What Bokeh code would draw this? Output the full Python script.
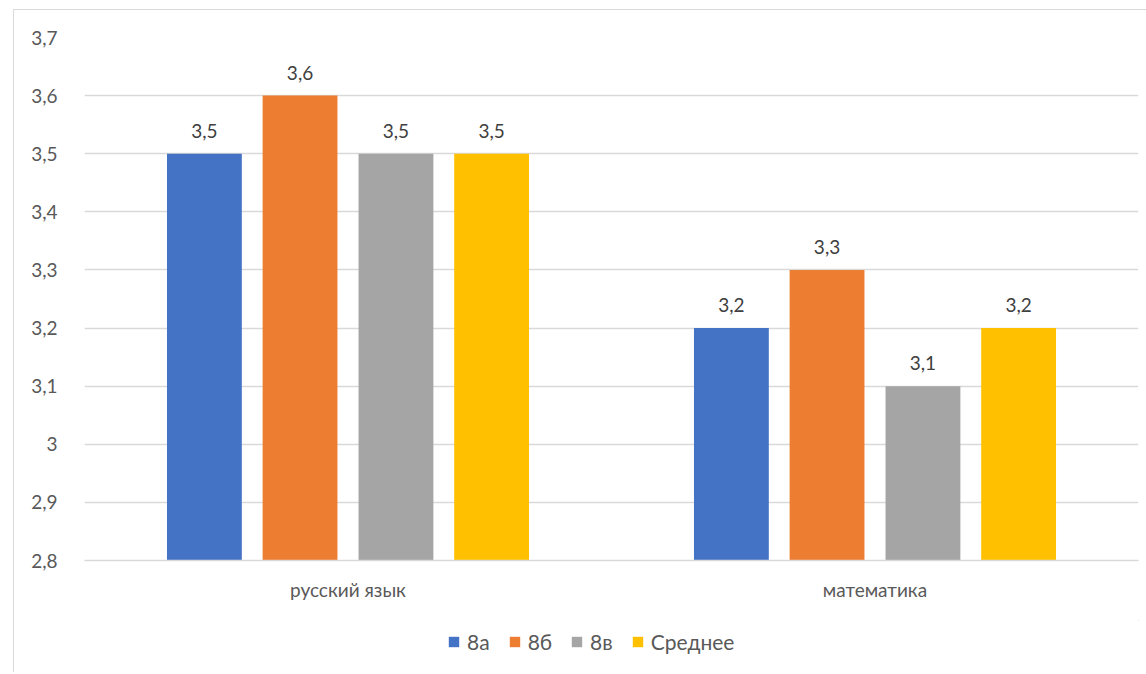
from bokeh.plotting import figure
from bokeh.layouts import column
from bokeh.models import (ColumnDataSource, FactorRange, FixedTicker, CustomJSTickFormatter,
                          LabelSet, Legend, LegendItem)
from bokeh.transform import dodge
from bokeh.core.properties import value
from bokeh.embed import file_html
from bokeh.resources import INLINE

subjects = ["русский язык", "математика"]
series_names = ["8а", "8б", "8в", "Среднее"]
vals_8a = [3.5, 3.2]
vals_8b = [3.6, 3.3]
vals_8v = [3.5, 3.1]
vals_avg = [3.5, 3.2]
y_ticks = [2.8, 2.9, 3.0, 3.1, 3.2, 3.3, 3.4, 3.5, 3.6, 3.7]

series_vals = [vals_8a, vals_8b, vals_8v, vals_avg]
colors = ["#4472C4", "#ED7D31", "#A5A5A5", "#FFC000"]
offsets = [-0.2725, -0.091, 0.091, 0.2725]
FONT = "Lato"

p = figure(x_range=FactorRange(*subjects), y_range=(2.8, 3.7),
           frame_width=1054, frame_height=523,
           min_border_left=70, min_border_right=8, min_border_top=27, min_border_bottom=60,
           output_backend="svg", toolbar_location=None)
p.outline_line_color = None
p.background_fill_color = "white"
p.border_fill_color = "white"

for name, vals, col, off in zip(series_names, series_vals, colors, offsets):
    src = ColumnDataSource(dict(x=subjects, top=vals,
                                lbl=[str(v).replace(".", ",") for v in vals]))
    p.vbar(x=dodge("x", off, range=p.x_range), top="top", bottom=2.8, width=0.142,
           source=src, fill_color=col, line_color=None)
    p.add_layout(LabelSet(x=dodge("x", off, range=p.x_range), y="top", text="lbl", source=src,
                          text_align="center", text_baseline="alphabetic", y_offset=16,
                          text_font=value(FONT), text_font_size="19px", text_color="#404040"))

p.yaxis.ticker = FixedTicker(ticks=y_ticks)
p.yaxis.formatter = CustomJSTickFormatter(code="return (Math.round(tick*10)/10).toString().replace('.', ',');")
p.yaxis.axis_line_color = None
p.yaxis.major_tick_line_color = None
p.yaxis.minor_tick_line_color = None
p.yaxis.major_label_standoff = 21
p.yaxis.major_label_text_font = FONT
p.yaxis.major_label_text_font_size = "19px"
p.yaxis.major_label_text_color = "#595959"

p.xaxis.axis_line_color = "#d9d9d9"
p.xaxis.axis_line_width = 1.5
p.xaxis.major_tick_line_color = None
p.xaxis.minor_tick_line_color = None
p.xaxis.major_label_standoff = 11
p.xaxis.major_label_text_font = FONT
p.xaxis.major_label_text_font_size = "19px"
p.xaxis.major_label_text_color = "#595959"

p.xgrid.grid_line_color = None
p.ygrid.grid_line_color = "#d9d9d9"
p.ygrid.grid_line_width = 1.5

# legend strip below the chart (legend swatches use renderers kept outside the visible range)
lg = figure(width=1132, height=52, x_range=(0, 1), y_range=(0, 1),
            min_border=0, output_backend="svg", toolbar_location=None)
lg.axis.visible = False
lg.grid.visible = False
lg.outline_line_color = None
lg.background_fill_color = "white"
lg.border_fill_color = "white"
items = []
for name, col in zip(series_names, colors):
    r = lg.vbar(x=[5], top=[5], bottom=4, width=0.1, fill_color=col, line_color=None)
    items.append(LegendItem(label=name, renderers=[r]))
legend = Legend(items=items, orientation="horizontal", location=(363, 18),
                glyph_width=13, glyph_height=13, label_standoff=7, spacing=18,
                padding=0, margin=0, border_line_color=None, background_fill_alpha=0,
                label_text_font=FONT, label_text_font_size="21px", label_text_color="#595959")
lg.add_layout(legend, "center")

layout = column(p, lg, spacing=0)
layout.margin = (9, 0, 0, 13)
layout.styles = {"border-left": "1px solid #d9d9d9", "border-top": "1px solid #d9d9d9"}

open("out.html", "w").write(file_html(layout, INLINE))
